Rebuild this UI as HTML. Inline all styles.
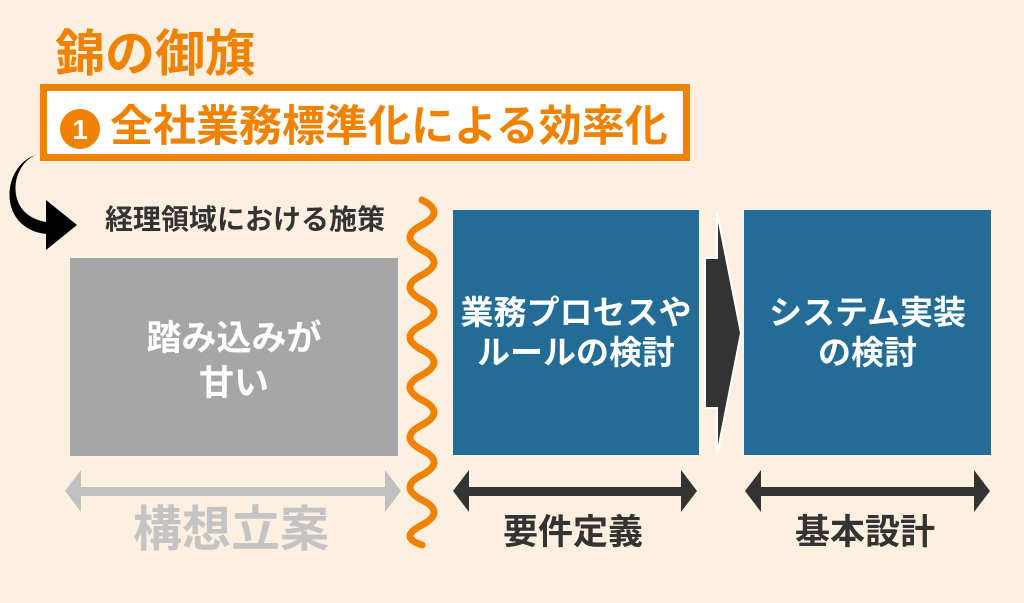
<!DOCTYPE html>
<html><head><meta charset="utf-8"><style>
html,body{margin:0;padding:0;}
body{width:1024px;height:603px;background:#fdf0e1;overflow:hidden;position:relative;font-family:"Liberation Sans","Noto Sans CJK JP",sans-serif;font-weight:bold;}
.t{position:absolute;white-space:nowrap;line-height:1;}
</style></head><body>
<svg width="1024" height="603" style="position:absolute;left:0;top:0">
  <rect x="43.5" y="87.5" width="643" height="70" fill="#fff" stroke="#ef8200" stroke-width="7"/>
  <circle cx="80" cy="129" r="20" fill="#ef8200"/>
  <text x="80" y="139" font-size="28" font-weight="bold" fill="#fff" text-anchor="middle" font-family="Liberation Sans,sans-serif">1</text>
  <!-- curved arrow -->
  <path d="M36 155 C10 165 4 215 46 222 L46 200 L77 225 L46 250 L46 234 C-4 228 2 165 36 155 Z" fill="#000"/>
  <rect x="70" y="258" width="328" height="198" fill="#a6a6a6"/>
  <rect x="453" y="210" width="246" height="245" fill="#236c96"/>
  <rect x="744" y="210" width="247" height="245" fill="#236c96"/>
  <!-- big arrow -->
  <path d="M705 258 L717 258 L717 212 L741 333 L717 455 L717 408 L705 408 Z" fill="#333" stroke="#fff" stroke-width="2"/>
  <!-- wave -->
  <path fill="none" stroke="#ef8200" stroke-width="7" stroke-linecap="round"
   d="M422 200 q24 12 0 25 q-24 12 0 25 q24 12 0 25 q-24 12 0 25 q24 12 0 25 q-24 12 0 25 q24 12 0 25 q-24 12 0 25 q24 12 0 25 q-24 12 0 25 q24 12 0 25 q-24 12 0 25 q24 12 0 25 q-24 12 0 20"/>
  <!-- double arrows -->
  <g fill="#c0c0c0"><rect x="78" y="487" width="310" height="9"/><path d="M65 491 L81 470 L81 512 Z"/><path d="M401 491 L385 470 L385 512 Z"/></g>
  <g fill="#333"><rect x="466" y="487" width="218" height="9"/><path d="M453 491 L469 470 L469 512 Z"/><path d="M697 491 L681 470 L681 512 Z"/></g>
  <g fill="#333"><rect x="758" y="487" width="219" height="9"/><path d="M745 491 L761 470 L761 512 Z"/><path d="M990 491 L974 470 L974 512 Z"/></g>
</svg>
<div class="t" style="left:55px;top:29px;font-size:50px;color:#ef8200;">錦の御旗</div>
<div class="t" style="left:110px;top:106px;font-size:43px;color:#ef8200;">全社業務標準化による効率化</div>
<div class="t" style="left:105px;top:206px;font-size:28px;color:#333;">経理領域における施策</div>
<div class="t" style="left:70px;top:316px;width:328px;text-align:center;font-size:35px;color:#fff;line-height:45px;">踏み込みが<br>甘い</div>
<div class="t" style="left:453px;top:293px;width:246px;text-align:center;font-size:33px;color:#fff;line-height:40px;">業務プロセスや<br>ルールの検討</div>
<div class="t" style="left:744px;top:293px;width:247px;text-align:center;font-size:33px;color:#fff;line-height:40px;">システム実装<br>の検討</div>
<div class="t" style="left:133px;top:506px;font-size:49px;color:#c4c4c4;">構想立案</div>
<div class="t" style="left:503px;top:515px;font-size:35px;color:#333;">要件定義</div>
<div class="t" style="left:795px;top:515px;font-size:35px;color:#333;">基本設計</div>
</body></html>
